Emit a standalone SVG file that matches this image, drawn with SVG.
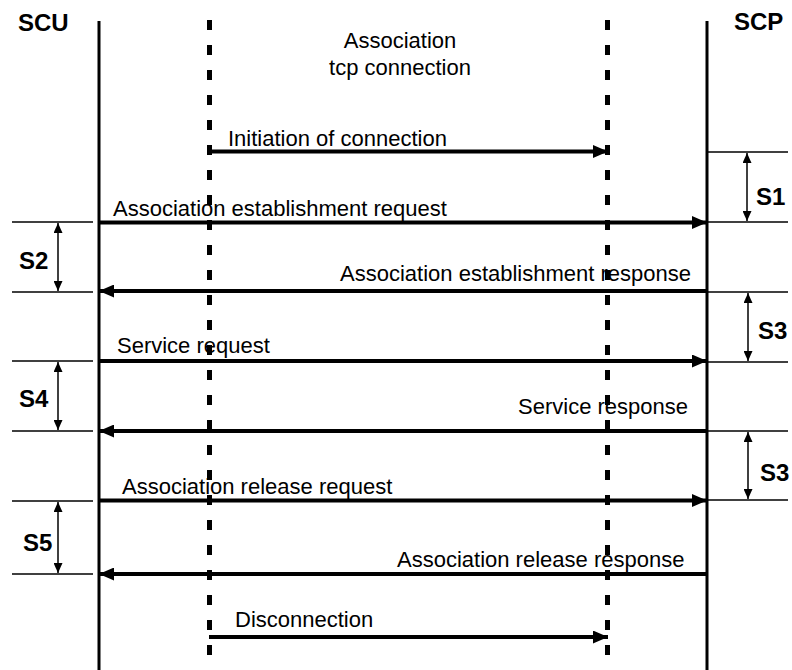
<svg xmlns="http://www.w3.org/2000/svg" width="792" height="670" viewBox="0 0 792 670">
<style>
text{font-family:"Liberation Sans",Arial,sans-serif;fill:#000}
.t{font-size:22px}
.b{font-size:24px;font-weight:bold}
.life{stroke:#000;stroke-width:3}
.dash{stroke:#000;stroke-width:5;stroke-dasharray:10 15}
.msg{stroke:#000;stroke-width:4;fill:none}
.tick{stroke:#000;stroke-width:1.5}
.dur{stroke:#000;stroke-width:1.5;marker-start:url(#sa);marker-end:url(#sa)}
</style>
<defs>
<marker id="ah" markerUnits="userSpaceOnUse" viewBox="0 0 15 13" refX="15" refY="6.5" markerWidth="15" markerHeight="13" orient="auto"><path d="M0,0 L15,6.5 L0,13 Z" fill="#000"/></marker>
<marker id="sa" markerUnits="userSpaceOnUse" viewBox="0 0 10 9" refX="10" refY="4.5" markerWidth="10" markerHeight="9" orient="auto-start-reverse"><path d="M0,0 L10,4.5 L0,9 Z" fill="#000"/></marker>
</defs>
<g id="SCU">
<line class="life" x1="99" y1="21" x2="99" y2="670"/>
<text class="b" x="18" y="31">SCU</text>
</g>
<g id="SCP">
<line class="life" x1="707" y1="21" x2="707" y2="670"/>
<text class="b" x="734" y="30">SCP</text>
</g>
<g id="tcp1"><line class="dash" x1="209.5" y1="20" x2="209.5" y2="670"/></g>
<g id="tcp2"><line class="dash" x1="607.5" y1="20" x2="607.5" y2="670"/></g>
<g id="title">
<text class="t" x="400" y="48" text-anchor="middle">Association</text>
<text class="t" x="400" y="75" text-anchor="middle">tcp connection</text>
</g>
<g id="ticks">
<line class="tick" x1="707" y1="152" x2="788" y2="152"/>
<line class="tick" x1="707" y1="222" x2="788" y2="222"/>
<line class="tick" x1="707" y1="292" x2="788" y2="292"/>
<line class="tick" x1="707" y1="362" x2="788" y2="362"/>
<line class="tick" x1="707" y1="431" x2="788" y2="431"/>
<line class="tick" x1="707" y1="500" x2="788" y2="500"/>
<line class="tick" x1="12" y1="222" x2="93" y2="222"/>
<line class="tick" x1="12" y1="292" x2="93" y2="292"/>
<line class="tick" x1="12" y1="361" x2="93" y2="361"/>
<line class="tick" x1="12" y1="431" x2="93" y2="431"/>
<line class="tick" x1="12" y1="501" x2="93" y2="501"/>
<line class="tick" x1="12" y1="574" x2="93" y2="574"/>
</g>
<g id="durations">
<line class="dur" x1="747" y1="153" x2="747" y2="221"/>
<text class="b" x="756" y="205">S1</text>
<line class="dur" x1="58" y1="223" x2="58" y2="291"/>
<text class="b" x="19" y="269">S2</text>
<line class="dur" x1="748" y1="293" x2="748" y2="361"/>
<text class="b" x="758" y="339">S3</text>
<line class="dur" x1="58" y1="362" x2="58" y2="430"/>
<text class="b" x="19" y="407">S4</text>
<line class="dur" x1="748" y1="432" x2="748" y2="499"/>
<text class="b" x="760" y="481">S3</text>
<line class="dur" x1="58" y1="502" x2="58" y2="573"/>
<text class="b" x="23" y="551">S5</text>
</g>
<g id="connectors">
<line class="msg" x1="209" y1="151.5" x2="608" y2="151.5" marker-end="url(#ah)"/>
<text class="t" x="228" y="146">Initiation of connection</text>
<line class="msg" x1="99" y1="222.5" x2="707" y2="222.5" marker-end="url(#ah)"/>
<text class="t" x="113" y="216">Association establishment request</text>
<line class="msg" x1="707" y1="291" x2="99" y2="291" marker-end="url(#ah)"/>
<text class="t" x="691" y="281" text-anchor="end">Association establishment response</text>
<line class="msg" x1="99" y1="361" x2="707" y2="361" marker-end="url(#ah)"/>
<text class="t" x="117" y="353">Service request</text>
<line class="msg" x1="707" y1="431" x2="99" y2="431" marker-end="url(#ah)"/>
<text class="t" x="688" y="414" text-anchor="end">Service response</text>
<line class="msg" x1="99" y1="500.5" x2="707" y2="500.5" marker-end="url(#ah)"/>
<text class="t" x="122" y="494">Association release request</text>
<line class="msg" x1="707" y1="574" x2="99" y2="574" marker-end="url(#ah)"/>
<text class="t" x="397" y="567">Association release response</text>
<line class="msg" x1="209" y1="637" x2="608" y2="637" marker-end="url(#ah)"/>
<text class="t" x="235" y="627">Disconnection</text>
</g>
</svg>
